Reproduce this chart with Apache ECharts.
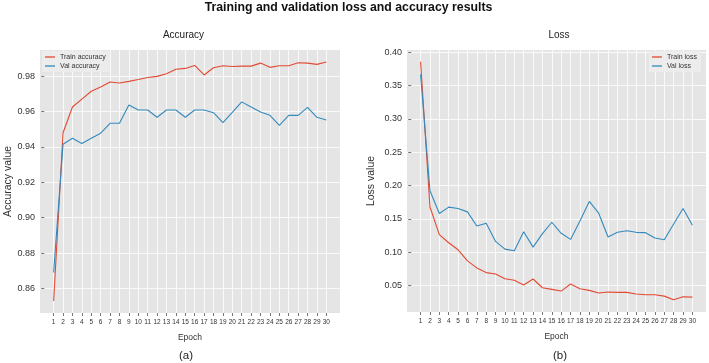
<!DOCTYPE html>
<html>
<head>
<meta charset="utf-8">
<script src="https://cdn.jsdelivr.net/npm/echarts@6/dist/echarts.min.js"></script>
<style>html,body{margin:0;padding:0;background:#fff;}#c{width:709px;height:363px;}</style>
</head>
<body>
<div id="c"></div>
<script>
const epochs = [1,2,3,4,5,6,7,8,9,10,11,12,13,14,15,16,17,18,19,20,21,22,23,24,25,26,27,28,29,30];
const trainAcc = [0.853,0.948,0.9625,0.967,0.9714,0.9738,0.9766,0.9761,0.977,0.978,0.9792,0.9798,0.9813,0.9838,0.9843,0.986,0.9806,0.9847,0.9858,0.9854,0.9856,0.9856,0.9873,0.9849,0.9858,0.9858,0.9875,0.9873,0.9866,0.9879];
const valAcc = [0.8691,0.9415,0.9449,0.9419,0.9449,0.9477,0.9533,0.9533,0.9637,0.9608,0.9608,0.9567,0.9608,0.9608,0.9567,0.9608,0.9608,0.9593,0.9537,0.9595,0.9654,0.9625,0.9597,0.9578,0.9522,0.9578,0.9578,0.9623,0.9567,0.9552];
const trainLoss = [0.386,0.168,0.1265,0.1144,0.1038,0.0872,0.0766,0.0696,0.0676,0.0605,0.058,0.051,0.060,0.0469,0.0444,0.0419,0.0525,0.0454,0.0429,0.0389,0.0404,0.0399,0.0399,0.0374,0.0364,0.0364,0.0343,0.0288,0.0333,0.0328];
const valLoss = [0.367,0.1924,0.1582,0.1678,0.1658,0.1607,0.1396,0.1436,0.1164,0.1048,0.1023,0.131,0.1078,0.128,0.1451,0.1285,0.1194,0.1471,0.1763,0.1587,0.123,0.13,0.1325,0.13,0.1295,0.1214,0.1189,0.1426,0.1658,0.1406];
const accTicks = [0.86,0.88,0.90,0.92,0.94,0.96,0.98];
const lossTicks = [0.05,0.10,0.15,0.20,0.25,0.30,0.35,0.40];

const FONT = 'Liberation Sans, Arial, sans-serif';
const RED = '#E24A33', BLUE = '#348ABD';

function pairs(xs, ys){ return xs.map((x,i)=>[x, ys[i]]); }

function xAxis(gi){
  return {
    type:'value', gridIndex:gi, min:-0.45, max:31.45,
    name:'Epoch', nameLocation:'middle', nameGap:20,
    nameTextStyle:{fontFamily:FONT, fontSize:8.5, color:'#333'},
    axisLine:{show:false},
    axisTick:{show:true, length:3, customValues:epochs, lineStyle:{color:'#555', width:0.8}},
    axisLabel:{customValues:epochs, fontFamily:FONT, fontSize:6.5, color:'#333', margin:6},
    splitLine:{show:true, lineStyle:{color:'#fff', width:0.8}}
  };
}
function yAxis(gi, mn, mx, ticks, name, fmt){
  return {
    type:'value', gridIndex:gi, min:mn, max:mx,
    name:name, nameLocation:'middle', nameGap:fmt,
    nameTextStyle:{fontFamily:FONT, fontSize:10.5, color:'#333'},
    axisLine:{show:false},
    axisTick:{show:true, length:3, customValues:ticks, lineStyle:{color:'#555', width:0.8}},
    axisLabel:{customValues:ticks, fontFamily:FONT, fontSize:9, color:'#333', margin:5,
      formatter: v => v.toFixed(2)},
    splitLine:{show:true, lineStyle:{color:'#fff', width:0.8}}
  };
}

const chart = echarts.init(document.getElementById('c'), null, {renderer:'canvas'});
chart.setOption({
  animation:false,
  backgroundColor:'#fff',
  grid:[
    {left:40, top:50, width:300, height:263, show:true, backgroundColor:'#E5E5E5', borderWidth:0},
    {left:407, top:50, width:299, height:262, show:true, backgroundColor:'#E5E5E5', borderWidth:0}
  ],
  xAxis:[xAxis(0), xAxis(1)],
  yAxis:[
    yAxis(0, 0.8462, 0.9947, accTicks, 'Accuracy value', 26),
    yAxis(1, 0.0105, 0.4035, lossTicks, 'Loss value', 30)
  ],
  legend:[
    {orient:'vertical', left:42, top:51, data:['Train accuracy','Val accuracy'],
     icon:'rect', itemWidth:10, itemHeight:1.3, itemGap:1, padding:[2,4,2,3],
     backgroundColor:'rgba(236,236,236,0.9)',
     textStyle:{fontFamily:FONT, fontSize:7, color:'#333', lineHeight:8}},
    {orient:'vertical', right:8, top:51, data:['Train loss','Val loss'],
     icon:'rect', itemWidth:10, itemHeight:1.3, itemGap:1, padding:[2,4,2,3],
     backgroundColor:'rgba(236,236,236,0.9)',
     textStyle:{fontFamily:FONT, fontSize:7, color:'#333', lineHeight:8}}
  ],
  series:[
    {name:'Train accuracy', type:'line', xAxisIndex:0, yAxisIndex:0, data:pairs(epochs, trainAcc),
     showSymbol:false, symbol:'none', lineStyle:{color:RED, width:1.1}, itemStyle:{color:RED}},
    {name:'Val accuracy', type:'line', xAxisIndex:0, yAxisIndex:0, data:pairs(epochs, valAcc),
     showSymbol:false, symbol:'none', lineStyle:{color:BLUE, width:1.1}, itemStyle:{color:BLUE}},
    {name:'Train loss', type:'line', xAxisIndex:1, yAxisIndex:1, data:pairs(epochs, trainLoss),
     showSymbol:false, symbol:'none', lineStyle:{color:RED, width:1.1}, itemStyle:{color:RED}},
    {name:'Val loss', type:'line', xAxisIndex:1, yAxisIndex:1, data:pairs(epochs, valLoss),
     showSymbol:false, symbol:'none', lineStyle:{color:BLUE, width:1.1}, itemStyle:{color:BLUE}}
  ],
  graphic:[
    {type:'text', x:348.5, y:8, style:{text:'Training and validation loss and accuracy results', font:'bold 12.3px '+FONT, fill:'#111', textAlign:'center', textVerticalAlign:'middle'}},
    {type:'text', x:183.5, y:35, style:{text:'Accuracy', font:'10px '+FONT, fill:'#222', textAlign:'center', textVerticalAlign:'middle'}},
    {type:'text', x:559, y:35, style:{text:'Loss', font:'10px '+FONT, fill:'#222', textAlign:'center', textVerticalAlign:'middle'}},
    {type:'text', x:186, y:356, style:{text:'(a)', font:'11.5px '+FONT, fill:'#222', textAlign:'center', textVerticalAlign:'middle'}},
    {type:'text', x:560, y:356, style:{text:'(b)', font:'11.5px '+FONT, fill:'#222', textAlign:'center', textVerticalAlign:'middle'}}
  ]
});
</script>
</body>
</html>
